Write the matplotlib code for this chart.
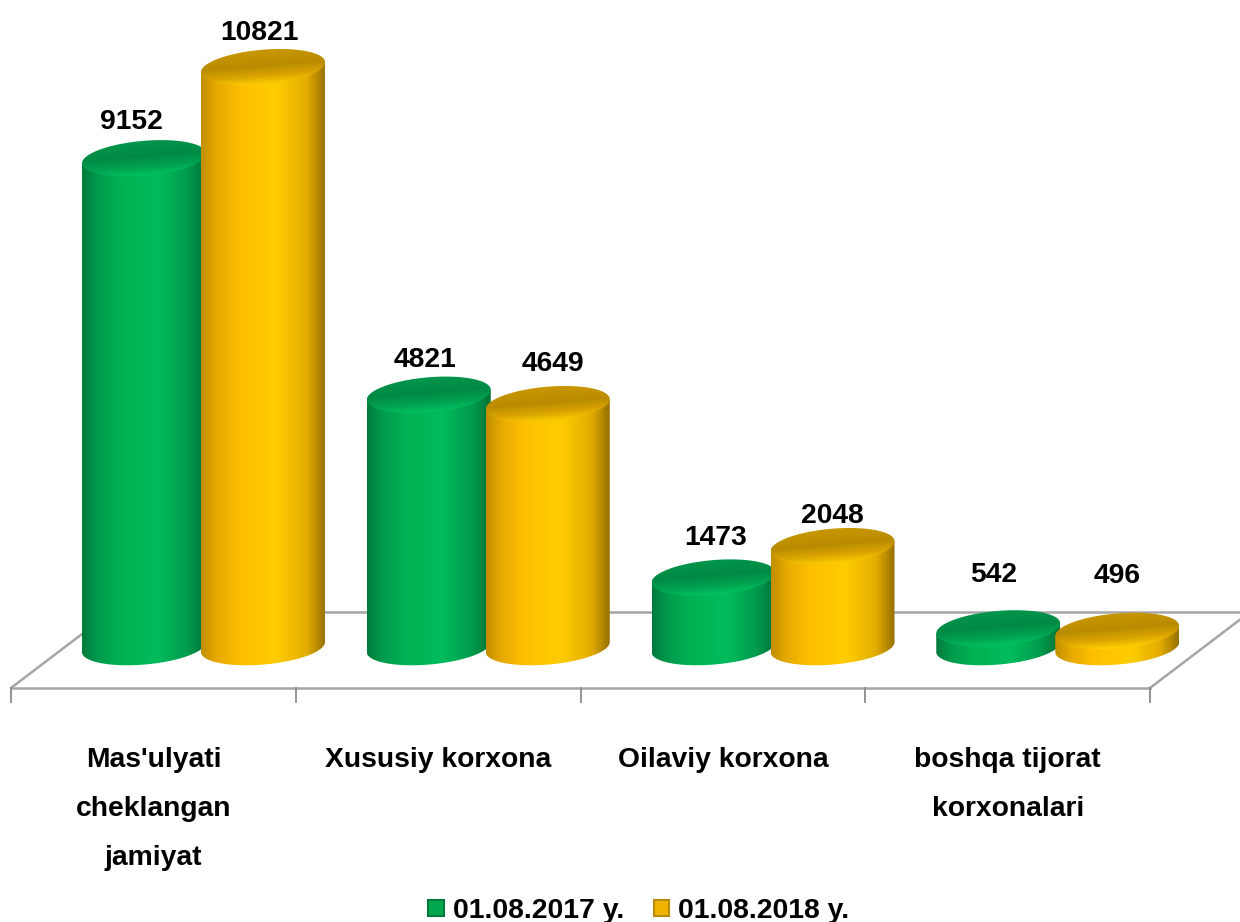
import numpy as np
import matplotlib
matplotlib.use('Agg')
import matplotlib.pyplot as plt
from matplotlib.colors import LinearSegmentedColormap
from matplotlib.patches import PathPatch, Patch
from matplotlib.path import Path

categorias = ["Mas'ulyati\ncheklangan\njamiyat", "Xususiy korxona", "Oilaviy korxona", "boshqa tijorat\nkorxonalari"]
series_nomi = ['01.08.2017 y.', '01.08.2018 y.']
valores_2017 = [9152, 4821, 1473, 542]
valores_2018 = [10821, 4649, 2048, 496]

# label nudges in pixels (x, up), the chart moved them by hand
nudge_2017 = [(-13, 36), (-4, 35), (2, 40), (-5, 53)]
nudge_2018 = [(-4, 34), (5, 40), (0, 30), (0, 55)]

plt.rcParams['font.family'] = ['Liberation Sans', 'DejaVu Sans']
plt.rcParams['font.weight'] = 'bold'

px_x = 284.75           # pixels per category
px_y = 0.0546           # pixels per unit of value
x0_px, y0_px = 153.5, 658

fig = plt.figure(figsize=(12.4, 9.22), dpi=100)
ax = fig.add_axes([0, 0, 1, 1])
xlim = (-x0_px / px_x, (1240 - x0_px) / px_x)
ylim = ((y0_px - 922) / px_y, y0_px / px_y)

# cylinder shape
a = 62 / px_x
b = 17.5 / px_y
s = 5 / px_y
piso = 200              # floor level of the cylinders
desloc = [-9.5 / px_x, 109.5 / px_x]

verde_corpo = LinearSegmentedColormap.from_list('vc', [(0, '#007a3c'), (.12, '#009a4c'), (.3, '#00b153'),
                                                       (.6, '#00bc5c'), (.85, '#009a4c'), (1, '#006f37')])
verde_topo = LinearSegmentedColormap.from_list('vt', [(0, '#00954b'), (.45, '#008a45'), (.75, '#00a24f'), (1, '#00c261')])
amarelo_corpo = LinearSegmentedColormap.from_list('ac', [(0, '#c08e00'), (.12, '#e6a900'), (.3, '#fdbe00'),
                                                         (.6, '#ffcd00'), (.85, '#e3ac00'), (1, '#957000')])
amarelo_topo = LinearSegmentedColormap.from_list('at', [(0, '#c89700'), (.45, '#b98b00'), (.75, '#dca600'), (1, '#ffd000')])


def elipse(cx, cy, t):
    return cx + a * np.cos(t), cy + b * np.sin(t) + s * np.cos(t)


def cilindro(cx, valor, cmap_corpo, cmap_topo, z):
    # body: top half is hidden under the lid
    t = np.linspace(np.pi, 2 * np.pi, 60)
    bx, by = elipse(cx, piso, t)
    xs = np.r_[cx - a, bx, cx + a]
    ys = np.r_[valor - s, by, valor + s]
    corpo = PathPatch(Path(np.c_[xs, ys]), transform=ax.transData, fc='none', ec='none')
    ax.add_patch(corpo)
    grad = np.linspace(0, 1, 256).reshape(1, -1)
    img = ax.imshow(grad, cmap=cmap_corpo, extent=(cx - a, cx + a, piso - b - s, valor + s),
                    aspect='auto', zorder=z, interpolation='bilinear')
    img.set_clip_path(corpo)

    # lid
    t = np.linspace(0, 2 * np.pi, 120)
    tx, ty = elipse(cx, valor, t)
    topo = PathPatch(Path(np.c_[tx, ty]), transform=ax.transData, fc='none', ec='none')
    ax.add_patch(topo)
    h = b + s
    gx, gy = np.meshgrid(np.linspace(-1, 1, 200), np.linspace(-h, h, 100))
    w = (gy - s * gx) / b
    img2 = ax.imshow(np.clip((1 - w) / 2, 0, 1), cmap=cmap_topo, vmin=0, vmax=1, origin='lower',
                     extent=(cx - a, cx + a, valor - h, valor + h), aspect='auto',
                     zorder=z + 0.1, interpolation='bilinear')
    img2.set_clip_path(topo)


# floor and ticks
cinza = '#a6a6a6'
frente = (y0_px - 688) / px_y
fundo = (y0_px - 612) / px_y
x_esq = (11 - x0_px) / px_x
x_dir = (1150 - x0_px) / px_x
prof = 100 / px_x
ax.plot([x_esq, x_dir], [frente, frente], color=cinza, lw=1.8, zorder=1)
ax.plot([x_esq + prof, x_dir + prof], [fundo, fundo], color=cinza, lw=1.8, zorder=1)
ax.plot([x_esq, x_esq + prof], [frente, fundo], color=cinza, lw=1.8, zorder=1)
ax.plot([x_dir, x_dir + prof], [frente, fundo], color=cinza, lw=1.8, zorder=1)
for i in range(5):
    xt = x_esq + i * (x_dir - x_esq) / 4
    ax.plot([xt, xt], [frente, frente - 14 / px_y], color='#8c8c8c', lw=1.3, zorder=1)

for i in range(len(categorias)):
    cilindro(i + desloc[0], valores_2017[i], verde_corpo, verde_topo, 3 + i)
    cilindro(i + desloc[1], valores_2018[i], amarelo_corpo, amarelo_topo, 3.5 + i)

    for dx, vals, nudge in ((desloc[0], valores_2017, nudge_2017), (desloc[1], valores_2018, nudge_2018)):
        ax.annotate(str(vals[i]), xy=(i + dx, vals[i]), xytext=nudge[i], textcoords='offset pixels',
                    ha='center', va='center', fontsize=20.3, fontweight='bold', color='black', zorder=10)

    ax.text(i, (y0_px - 747) / px_y, categorias[i], ha='center', va='top', fontsize=20.3,
            fontweight='bold', color='black', linespacing=2.14)

handles = [Patch(facecolor='#00a650', edgecolor='#007a3c', lw=1.5),
           Patch(facecolor='#f0b400', edgecolor='#b98b00', lw=1.5)]
ax.legend(handles, series_nomi, loc='lower center', bbox_to_anchor=(0.515, -0.021), ncol=2, frameon=False,
          fontsize=20.4, handlelength=0.55, handleheight=0.5, handletextpad=0.3, columnspacing=1.05,
          borderpad=0.1)

ax.set_xlim(xlim)
ax.set_ylim(ylim)
ax.axis('off')
fig.savefig('out.png', dpi=100, facecolor='white')
